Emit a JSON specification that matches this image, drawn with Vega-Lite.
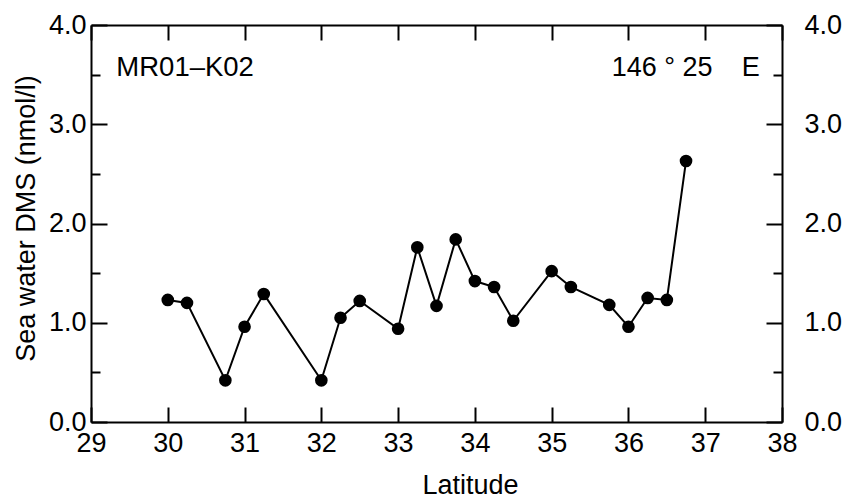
{
  "$schema": "https://vega.github.io/schema/vega-lite/v6.json",
  "width": 691,
  "height": 397,
  "autosize": {"type": "none"},
  "padding": {"left": 91, "top": 25, "right": 63, "bottom": 76},
  "background": "white",
  "config": {
    "view": {"stroke": null},
    "font": "Liberation Sans",
    "axis": {
      "grid": false,
      "domainColor": "black",
      "domainWidth": 2,
      "tickColor": "black",
      "tickWidth": 2,
      "labelColor": "black",
      "labelFont": "Liberation Sans",
      "labelFontSize": 27,
      "labelOverlap": false,
      "labelFlush": false,
      "labelBound": false,
      "titleColor": "black",
      "titleFont": "Liberation Sans",
      "titleFontSize": 27,
      "titleFontWeight": "normal"
    }
  },
  "data": {
    "values": [
      {"lat": 30.0, "dms": 1.23},
      {"lat": 30.25, "dms": 1.2},
      {"lat": 30.75, "dms": 0.42},
      {"lat": 31.0, "dms": 0.96},
      {"lat": 31.25, "dms": 1.29},
      {"lat": 32.0, "dms": 0.42},
      {"lat": 32.25, "dms": 1.05},
      {"lat": 32.5, "dms": 1.22},
      {"lat": 33.0, "dms": 0.94},
      {"lat": 33.25, "dms": 1.76},
      {"lat": 33.5, "dms": 1.17},
      {"lat": 33.75, "dms": 1.84},
      {"lat": 34.0, "dms": 1.42},
      {"lat": 34.25, "dms": 1.36},
      {"lat": 34.5, "dms": 1.02},
      {"lat": 35.0, "dms": 1.52},
      {"lat": 35.25, "dms": 1.36},
      {"lat": 35.75, "dms": 1.18},
      {"lat": 36.0, "dms": 0.96},
      {"lat": 36.25, "dms": 1.25},
      {"lat": 36.5, "dms": 1.23},
      {"lat": 36.75, "dms": 2.63}
    ]
  },
  "layer": [
    {
      "mark": {"type": "line", "color": "black", "strokeWidth": 2},
      "encoding": {
        "x": {
          "field": "lat", "type": "quantitative",
          "scale": {"domain": [29, 38], "nice": false, "zero": false},
          "axis": {
            "orient": "bottom",
            "values": [29, 30, 31, 32, 33, 34, 35, 36, 37, 38],
            "format": "d",
            "tickSize": -15,
            "labelPadding": 23,
            "title": "Latitude",
            "titleX": 379,
            "titleY": 71,
            "titleBaseline": "alphabetic"
          }
        },
        "y": {
          "field": "dms", "type": "quantitative",
          "scale": {"domain": [0, 4], "nice": false},
          "axis": {
            "orient": "left",
            "values": [0, 0.5, 1, 1.5, 2, 2.5, 3, 3.5, 4],
            "labelExpr": "datum.value % 1 === 0 ? format(datum.value, '.1f') : ''",
            "tickSize": {"condition": {"test": "datum.value % 1 === 0", "value": -16}, "value": -9},
            "labelPadding": 21,
            "title": "Sea water DMS (nmol/l)",
            "titleX": -57,
            "titleY": 193,
            "titleBaseline": "alphabetic"
          }
        }
      }
    },
    {
      "mark": {"type": "circle", "size": 160, "color": "black", "opacity": 1},
      "encoding": {
        "x": {
          "field": "lat", "type": "quantitative",
          "axis": {
            "orient": "top",
            "values": [29, 30, 31, 32, 33, 34, 35, 36, 37, 38],
            "tickSize": -15,
            "labels": false,
            "title": null
          }
        },
        "y": {
          "field": "dms", "type": "quantitative",
          "axis": {
            "orient": "right",
            "values": [0, 0.5, 1, 1.5, 2, 2.5, 3, 3.5, 4],
            "labelExpr": "datum.value % 1 === 0 ? format(datum.value, '.1f') : ''",
            "tickSize": {"condition": {"test": "datum.value % 1 === 0", "value": -16}, "value": -9},
            "labelPadding": 38,
            "title": null
          }
        }
      }
    },
    {
      "data": {"values": [{"label": "MR01–K02"}]},
      "mark": {"type": "text", "align": "left", "baseline": "alphabetic", "fontSize": 27.5, "font": "Liberation Sans", "color": "black"},
      "encoding": {
        "x": {"datum": 29.33, "type": "quantitative", "axis": null},
        "y": {"datum": 3.49, "type": "quantitative", "axis": null},
        "text": {"field": "label"}
      }
    },
    {
      "data": {"values": [{"label": "146 ° 25"}]},
      "mark": {"type": "text", "align": "right", "baseline": "alphabetic", "fontSize": 27, "font": "Liberation Sans", "color": "black"},
      "encoding": {
        "x": {"datum": 37.096, "type": "quantitative", "axis": null},
        "y": {"datum": 3.49, "type": "quantitative", "axis": null},
        "text": {"field": "label"}
      }
    },
    {
      "data": {"values": [{"label": "E"}]},
      "mark": {"type": "text", "align": "right", "baseline": "alphabetic", "fontSize": 27, "font": "Liberation Sans", "color": "black"},
      "encoding": {
        "x": {"datum": 37.71, "type": "quantitative", "axis": null},
        "y": {"datum": 3.49, "type": "quantitative", "axis": null},
        "text": {"field": "label"}
      }
    }
  ],
  "resolve": {"axis": {"x": "independent", "y": "independent"}}
}
